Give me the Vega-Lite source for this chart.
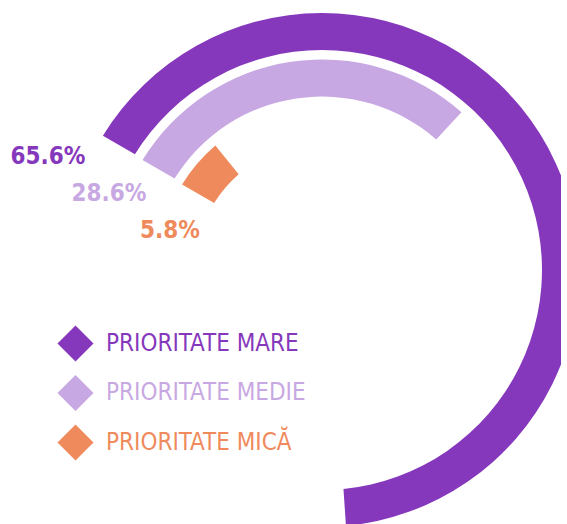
{
  "$schema": "https://vega.github.io/schema/vega-lite/v6.json",
  "width": 478,
  "height": 508,
  "autosize": {"type": "none"},
  "padding": {"left": 83, "top": 16, "right": 0, "bottom": 0},
  "background": "white",
  "config": {"view": {"stroke": null}, "font": "DejaVu Sans Condensed, Roboto Condensed, Liberation Sans Narrow, Roboto"},
  "data": {
    "values": [
      {"priority": "PRIORITATE MARE", "value": 65.6, "label": "65.6%"},
      {"priority": "PRIORITATE MEDIE", "value": 28.6, "label": "28.6%"},
      {"priority": "PRIORITATE MICĂ", "value": 5.8, "label": "5.8%"}
    ]
  },
  "layer": [
    {
      "mark": {"type": "arc", "padAngle": 0.04},
      "encoding": {
        "theta": {"field": "value", "type": "quantitative", "stack": null,
          "scale": {"domain": [0, 100], "range": [-1.0472, 5.236]}},
        "theta2": {"datum": 0},
        "radius": {"field": "priority", "type": "nominal",
          "scale": {"type": "band", "domain": ["PRIORITATE MICĂ", "PRIORITATE MEDIE", "PRIORITATE MARE"], "range": [127, 257], "paddingInner": 0.204, "paddingOuter": 0}},
        "color": {"field": "priority", "type": "nominal",
          "scale": {"domain": ["PRIORITATE MARE", "PRIORITATE MEDIE", "PRIORITATE MICĂ"], "range": ["#8638BC", "#C8A8E2", "#EF8A5C"]},
          "legend": {
            "orient": "none", "legendX": -26, "legendY": 309, "title": null,
            "symbolType": "diamond", "symbolSize": 1300, "symbolStrokeWidth": 0, "symbolOpacity": 1,
            "labelFont": "DejaVu Sans Condensed, Roboto Condensed, Liberation Sans Narrow, Roboto", "labelFontSize": 24, "labelOffset": 12,
            "rowPadding": 12.5, "padding": 0, "labelLimit": 400,
            "encode": {"labels": {"update": {"fill": {"scale": "color", "field": "value"}}}}
          }
        }
      }
    },
    {
      "mark": {"type": "text", "fontWeight": "bold", "fontSize": 24, "align": "center", "baseline": "alphabetic"},
      "encoding": {
        "x": {"field": "priority", "type": "nominal", "axis": null,
          "scale": {"type": "point", "domain": ["PRIORITATE MARE", "PRIORITATE MEDIE", "PRIORITATE MICĂ"], "range": [-35, 87], "padding": 0}},
        "y": {"field": "priority", "type": "nominal", "axis": null,
          "scale": {"type": "point", "domain": ["PRIORITATE MARE", "PRIORITATE MEDIE", "PRIORITATE MICĂ"], "range": [147.5, 221.5], "padding": 0}},
        "text": {"field": "label"},
        "color": {"field": "priority", "type": "nominal"}
      }
    }
  ]
}
